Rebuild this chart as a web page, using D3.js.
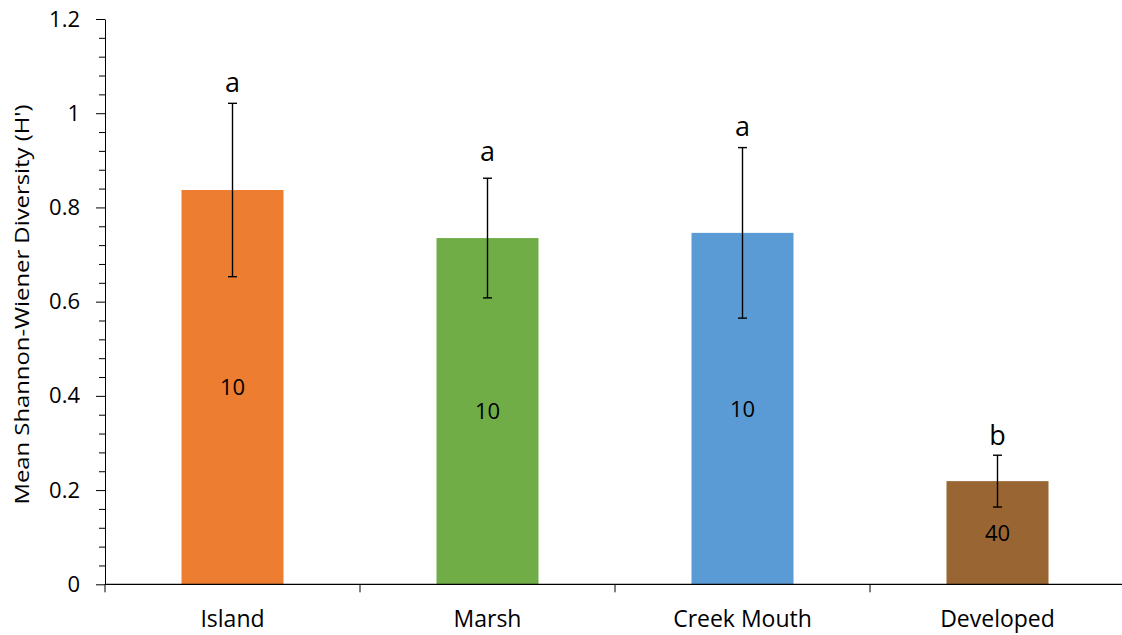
<!DOCTYPE html>
<html>
<head>
<meta charset="utf-8">
<script src="https://cdn.jsdelivr.net/npm/d3@7"></script>
<style>
  html, body { margin: 0; padding: 0; background: #fff; }
  svg { display: block; font-family: "Open Sans", "Noto Sans", sans-serif; }
</style>
</head>
<body>
<svg id="chart" width="1122" height="635"></svg>
<script>
// Habitat categories and mean Shannon-Wiener diversity per habitat
const categories = ["Island", "Marsh", "Creek Mouth", "Developed"];
const meanH = [0.837, 0.735, 0.746, 0.219];
const errH = [0.184, 0.127, 0.181, 0.055];
const sampleN = ["10", "10", "10", "40"];
const groupLetters = ["a", "a", "a", "b"];
const letterAt = [1.046, 0.899, 0.952, 0.296];
const barColors = ["#ED7D31", "#70AD47", "#5B9BD5", "#996633"];
const yTicks = [0, 0.2, 0.4, 0.6, 0.8, 1, 1.2];
const yTitle = "Mean Shannon-Wiener Diversity (H')";

const svg = d3.select("#chart");
const plotLeft = 105, plotRight = 1125, plotTop = 19, plotBottom = 584.3;

const y = d3.scaleLinear().domain([0, 1.2]).range([plotBottom, plotTop]);
const xCat = d3.scaleBand().domain(categories).range([plotLeft, plotRight]).padding(0);
const xBar = d3.scaleBand().domain(categories).range([plotLeft, plotRight])
  .paddingInner(0.6).paddingOuter(0.3);

const data = categories.map((c, i) => ({
  c, v: meanH[i], e: errH[i], n: sampleN[i], letter: groupLetters[i],
  la: letterAt[i], color: barColors[i]
}));

// bars
svg.append("g").selectAll("rect").data(data).join("rect")
  .attr("x", d => xBar(d.c))
  .attr("width", xBar.bandwidth())
  .attr("y", d => y(d.v))
  .attr("height", d => y(0) - y(d.v))
  .attr("fill", d => d.color);

// minor y ticks
const minor = d3.range(0, 1.2001, 0.04).filter(v => !yTicks.some(t => Math.abs(t - v) < 1e-6));
svg.append("g").attr("transform", `translate(${plotLeft},0)`)
  .call(d3.axisLeft(y).tickValues(minor).tickSize(6).tickFormat(""))
  .call(g => g.select(".domain").remove())
  .selectAll("line").attr("stroke", "#000").attr("stroke-width", 1);

// y axis
svg.append("g").attr("transform", `translate(${plotLeft},0)`)
  .call(d3.axisLeft(y).tickValues(yTicks).tickSize(9).tickPadding(16)
    .tickFormat(d => d3.format("~g")(d)).tickSizeOuter(0))
  .call(g => g.select(".domain").attr("stroke", "#000"))
  .call(g => g.selectAll("line").attr("stroke", "#000"))
  .call(g => g.selectAll("text").attr("font-size", 22).attr("fill", "#000")
    .attr("font-family", "'Open Sans', sans-serif"));

// x axis baseline
svg.append("line")
  .attr("x1", plotLeft).attr("x2", 1122)
  .attr("y1", y(0)).attr("y2", y(0))
  .attr("stroke", "#000").attr("stroke-width", 1.3);

// category boundary ticks
const bounds = categories.map(c => xCat(c)).concat([xCat(categories[3]) + xCat.bandwidth()]);
svg.append("g").selectAll("line").data(bounds).join("line")
  .attr("x1", d => d).attr("x2", d => d)
  .attr("y1", y(0)).attr("y2", y(0) + 8)
  .attr("stroke", "#000").attr("stroke-width", 1);

// category labels
svg.append("g").selectAll("text").data(categories).join("text")
  .attr("x", c => xCat(c) + xCat.bandwidth() / 2)
  .attr("y", 627)
  .attr("text-anchor", "middle")
  .attr("font-size", 23)
  .attr("fill", "#000")
  .text(c => c);

// error bars
const cap = 4.5;
const eb = svg.append("g").attr("stroke", "#000").attr("stroke-width", 1.4);
data.forEach(d => {
  const cx = xBar(d.c) + xBar.bandwidth() / 2;
  eb.append("line").attr("x1", cx).attr("x2", cx)
    .attr("y1", y(d.v + d.e)).attr("y2", y(d.v - d.e));
  eb.append("line").attr("x1", cx - cap).attr("x2", cx + cap)
    .attr("y1", y(d.v + d.e)).attr("y2", y(d.v + d.e));
  eb.append("line").attr("x1", cx - cap).attr("x2", cx + cap)
    .attr("y1", y(d.v - d.e)).attr("y2", y(d.v - d.e));
});

// sample sizes inside bars
svg.append("g").selectAll("text").data(data).join("text")
  .attr("x", d => xBar(d.c) + xBar.bandwidth() / 2)
  .attr("y", d => (y(d.v) + y(0)) / 2)
  .attr("dy", "0.36em")
  .attr("text-anchor", "middle")
  .attr("font-size", 22)
  .attr("fill", "#000")
  .text(d => d.n);

// significance letters
svg.append("g").selectAll("text").data(data).join("text")
  .attr("x", d => xBar(d.c) + xBar.bandwidth() / 2)
  .attr("y", d => y(d.la))
  .attr("text-anchor", "middle")
  .attr("font-size", 27)
  .attr("fill", "#000")
  .text(d => d.letter);

// y axis title
svg.append("text")
  .attr("transform", `translate(29,304.5) rotate(-90)`)
  .attr("text-anchor", "middle")
  .attr("font-size", 20)
  .attr("textLength", 400)
  .attr("lengthAdjust", "spacingAndGlyphs")
  .attr("fill", "#000")
  .text(yTitle);
</script>
</body>
</html>
